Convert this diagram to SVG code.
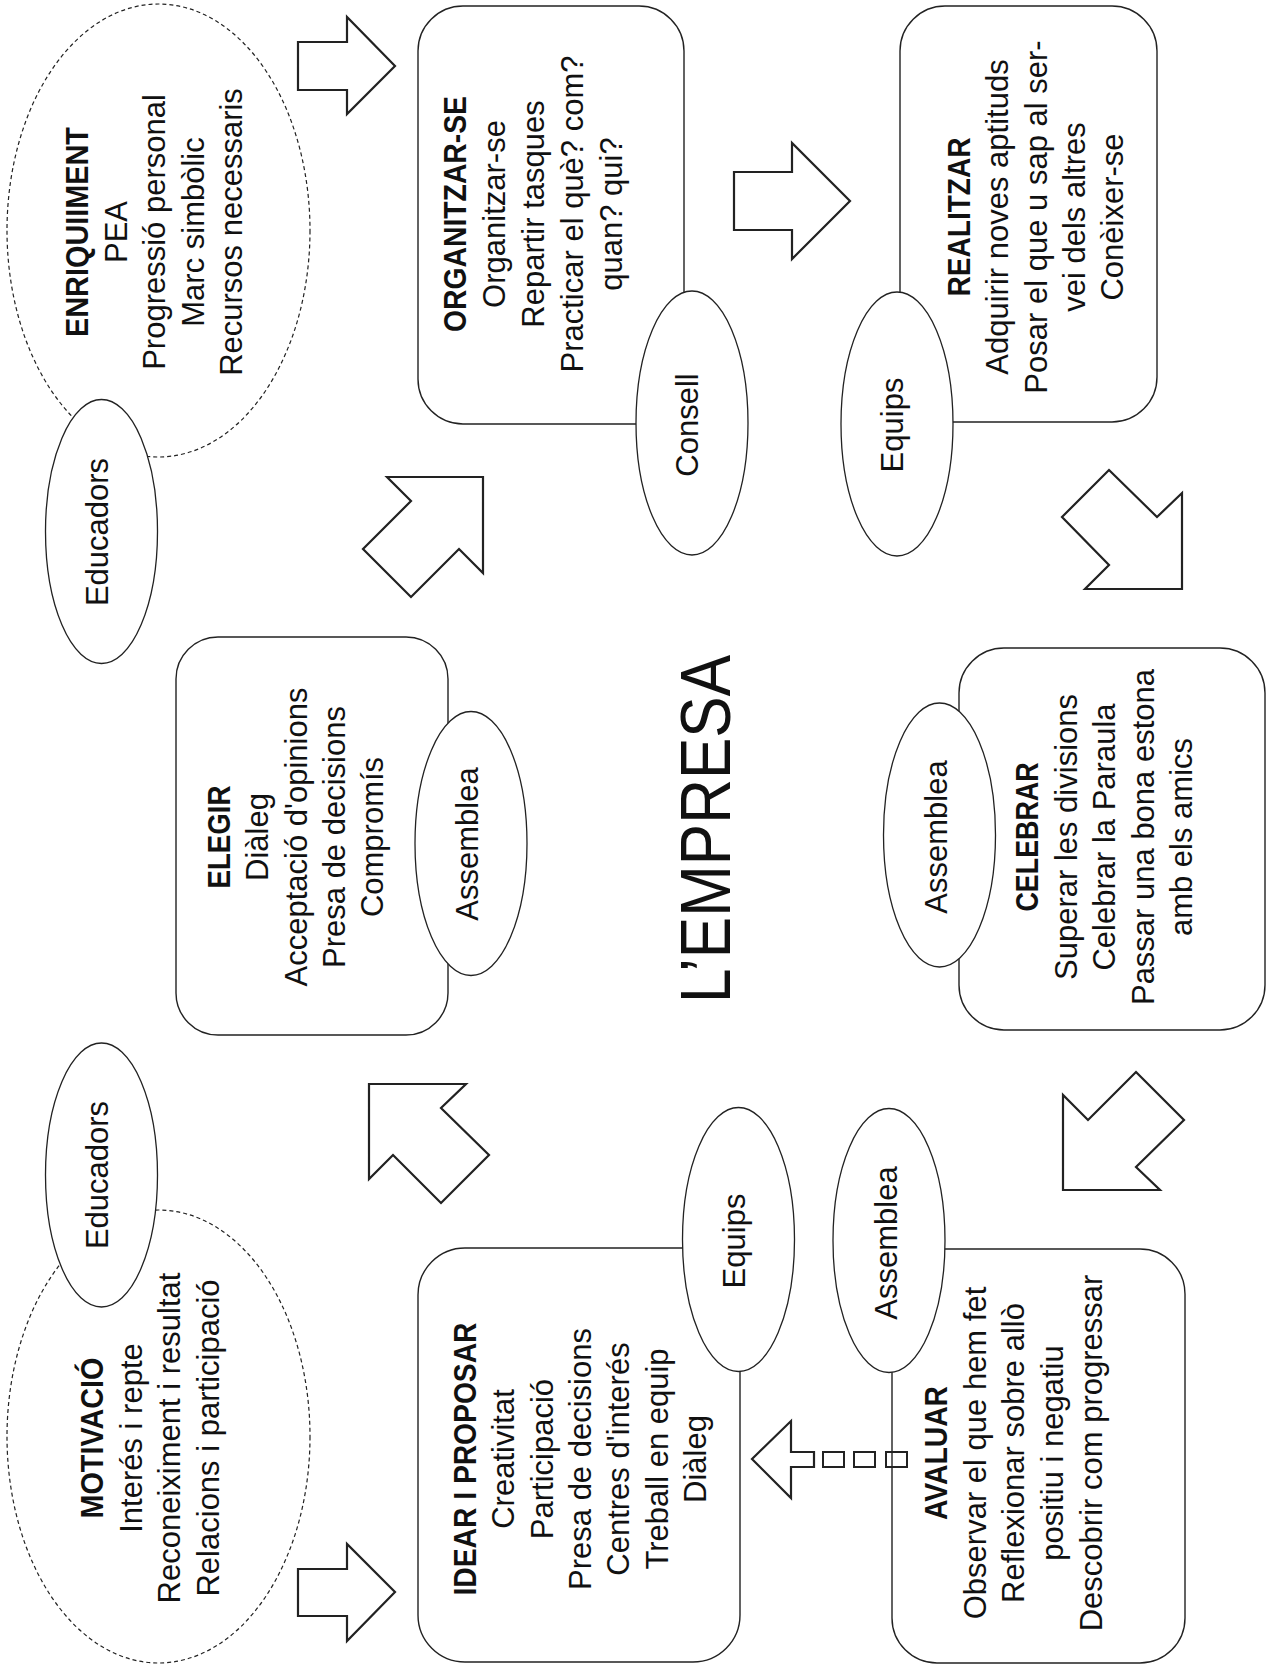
<svg xmlns="http://www.w3.org/2000/svg" width="1270" height="1670" viewBox="0 0 1270 1670">
<style>
.box{fill:#fff;stroke:#222;stroke-width:1.4}
.lbl{fill:#fff;stroke:#222;stroke-width:1.3}
.dash{fill:none;stroke:#222;stroke-width:1.2;stroke-dasharray:4 3}
.arrow{fill:#fff;stroke:#222;stroke-width:2.2;stroke-linejoin:miter}
.sq{fill:none;stroke:#222;stroke-width:2}
text{font-family:'Liberation Sans',Arial,sans-serif;font-size:31px;fill:#111;text-anchor:middle}
.t{font-weight:bold}
.big{font-size:70px}
</style>
<rect width="1270" height="1670" fill="#fff"/>

<g id="connectors">
<polygon class="arrow" points="298,42 347,42 347,17 395,66 347,114 347,90 298,90"/>
<polygon class="arrow" points="734,172 792,172 792,143 850,201 792,259 792,230 734,230"/>
<polygon class="arrow" points="1109,470 1157,517 1182,493 1182,589 1085,589 1109,565 1062,517"/>
<polygon class="arrow" points="1136,1072 1184,1120 1136,1167 1160,1190 1063,1190 1063,1095 1088,1120"/>
<polygon class="arrow" points="298,1569 347,1569 347,1544 395,1592 347,1641 347,1616 298,1616"/>
<polygon class="arrow" points="369,1084 466,1084 441,1108 489,1155 441,1203 393,1155 369,1179"/>
<polygon class="arrow" points="387,477 483,477 483,573 459,549 411,597 363,549 411,501"/>
<polygon class="arrow" points="752,1459 791,1421 791,1452 814,1452 814,1467 791,1467 791,1498"/>
</g>

<g id="enriquiment">
<ellipse class="dash" cx="158.5" cy="230.5" rx="151.5" ry="226.5"/>
<g transform="translate(88,232) rotate(-90)">
<text class="t" y="0" textLength="210" lengthAdjust="spacingAndGlyphs">ENRIQUIIMENT</text>
<text y="38.5">PEA</text>
<text y="77">Progressió personal</text>
<text y="115.5">Marc simbòlic</text>
<text y="154">Recursos necessaris</text>
</g>
</g>

<g id="motivacio">
<ellipse class="dash" cx="158.5" cy="1436.5" rx="151.5" ry="226.5"/>
<g transform="translate(103,1438) rotate(-90)">
<text class="t" y="0" textLength="161" lengthAdjust="spacingAndGlyphs">MOTIVACIÓ</text>
<text y="38.5">Interés i repte</text>
<text y="77">Reconeiximent i resultat</text>
<text y="115.5">Relacions i participació</text>
</g>
</g>

<g id="organitzar">
<rect class="box" x="418" y="6" width="266" height="418" rx="45"/>
<g transform="translate(466,214) rotate(-90)">
<text class="t" y="0" textLength="236" lengthAdjust="spacingAndGlyphs">ORGANITZAR-SE</text>
<text y="39">Organitzar-se</text>
<text y="78">Repartir tasques</text>
<text y="117">Practicar el què? com?</text>
<text y="156">quan? qui?</text>
</g>
</g>

<g id="realitzar">
<rect class="box" x="900" y="6" width="257" height="416" rx="45"/>
<g transform="translate(970,217) rotate(-90)">
<text class="t" y="0" textLength="159" lengthAdjust="spacingAndGlyphs">REALITZAR</text>
<text y="38.3">Adquirir noves aptituds</text>
<text y="76.6">Posar el que u sap al ser-</text>
<text y="114.9">vei dels altres</text>
<text y="153.2">Conèixer-se</text>
</g>
</g>

<g id="elegir">
<rect class="box" x="176" y="637" width="272" height="398" rx="42"/>
<g transform="translate(230,837) rotate(-90)">
<text class="t" y="0" textLength="103" lengthAdjust="spacingAndGlyphs">ELEGIR</text>
<text y="38.3">Diàleg</text>
<text y="76.6">Acceptació d'opinions</text>
<text y="114.9">Presa de decisions</text>
<text y="153.2">Compromís</text>
</g>
</g>

<g id="celebrar">
<rect class="box" x="959" y="648" width="306" height="382" rx="45"/>
<g transform="translate(1038,837) rotate(-90)">
<text class="t" y="0" textLength="149" lengthAdjust="spacingAndGlyphs">CELEBRAR</text>
<text y="38.5">Superar les divisions</text>
<text y="77">Celebrar la Paraula</text>
<text y="115.5">Passar una bona estona</text>
<text y="154">amb els amics</text>
</g>
</g>

<g id="idear">
<rect class="box" x="418" y="1248" width="322" height="414" rx="47"/>
<g transform="translate(476,1459) rotate(-90)">
<text class="t" y="0" textLength="273" lengthAdjust="spacingAndGlyphs">IDEAR I PROPOSAR</text>
<text y="38.3">Creativitat</text>
<text y="76.6">Participació</text>
<text y="114.9">Presa de decisions</text>
<text y="153.2">Centres d'interés</text>
<text y="191.5">Treball en equip</text>
<text y="229.8">Diàleg</text>
</g>
</g>

<g id="avaluar">
<rect class="box" x="892" y="1249" width="293" height="414" rx="45"/>
<g transform="translate(947,1453) rotate(-90)">
<text class="t" y="0" textLength="134" lengthAdjust="spacingAndGlyphs">AVALUAR</text>
<text y="38.7">Observar el que hem fet</text>
<text y="77.4">Reflexionar sobre allò</text>
<text y="116.1">positiu i negatiu</text>
<text y="154.8">Descobrir com progressar</text>
</g>
</g>

<g id="educadors-1">
<ellipse class="lbl" cx="101.5" cy="531.5" rx="56" ry="132"/>
<text transform="translate(108,532) rotate(-90)">Educadors</text>
</g>
<g id="consell">
<ellipse class="lbl" cx="692" cy="423" rx="56" ry="132"/>
<text transform="translate(698,425) rotate(-90)">Consell</text>
</g>
<g id="equips-1">
<ellipse class="lbl" cx="897" cy="424" rx="56" ry="132"/>
<text transform="translate(903,425) rotate(-90)">Equips</text>
</g>
<g id="assemblea-1">
<ellipse class="lbl" cx="471" cy="843.5" rx="56" ry="132"/>
<text transform="translate(478,844) rotate(-90)">Assemblea</text>
</g>
<g id="assemblea-2">
<ellipse class="lbl" cx="939.5" cy="835" rx="56" ry="132"/>
<text transform="translate(947,837) rotate(-90)">Assemblea</text>
</g>
<g id="educadors-2">
<ellipse class="lbl" cx="101.5" cy="1175" rx="56" ry="132"/>
<text transform="translate(108,1175) rotate(-90)">Educadors</text>
</g>
<g id="equips-2">
<ellipse class="lbl" cx="738.5" cy="1239.5" rx="56" ry="132"/>
<text transform="translate(745,1241) rotate(-90)">Equips</text>
</g>
<g id="assemblea-3">
<ellipse class="lbl" cx="889" cy="1240.5" rx="56" ry="132"/>
<text transform="translate(897,1243) rotate(-90)">Assemblea</text>
</g>

<g id="dotted-link">
<rect class="sq" x="823" y="1452" width="21" height="15"/>
<rect class="sq" x="854" y="1452" width="21" height="15"/>
<rect class="sq" x="886" y="1452" width="21" height="15"/>
</g>

<g id="title">
<text class="big" transform="translate(730,829) rotate(-90)" textLength="348" lengthAdjust="spacingAndGlyphs">L’EMPRESA</text>
</g>
</svg>
